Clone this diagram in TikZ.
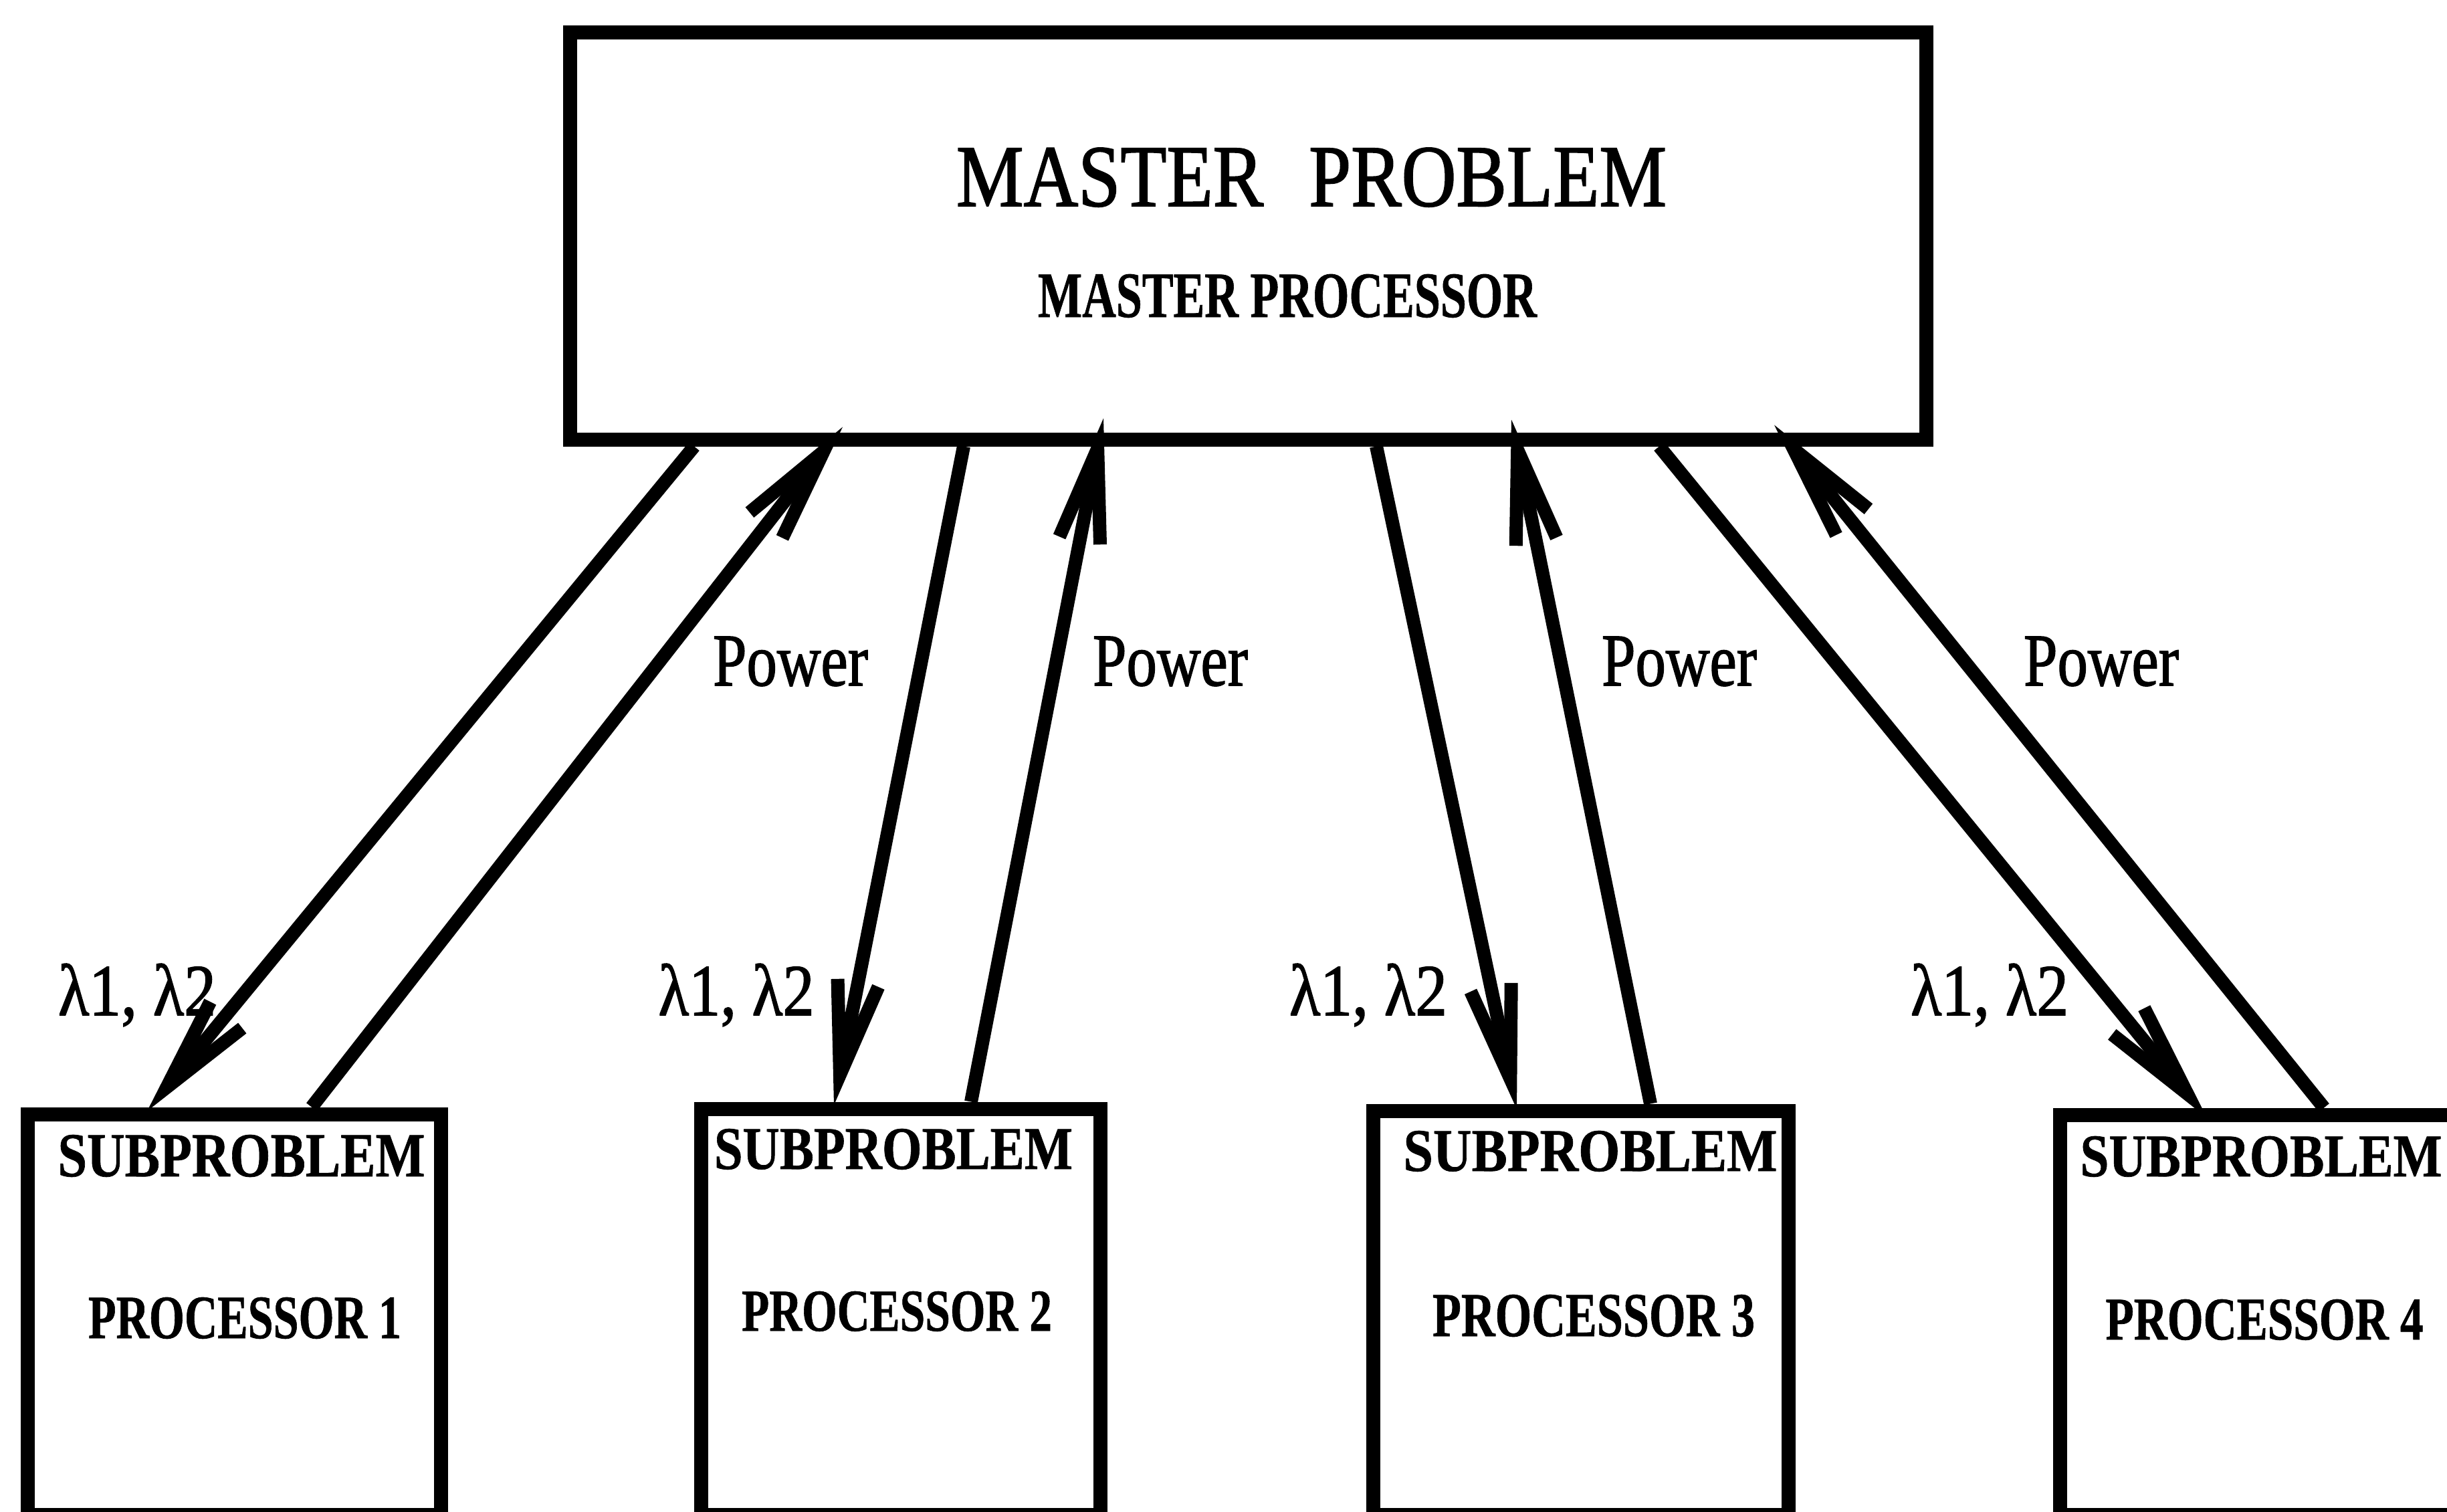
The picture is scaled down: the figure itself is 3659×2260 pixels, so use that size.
\documentclass[tikz,border=0pt]{standalone}
\usepackage{fontspec}
\setmainfont{Liberation Serif}
\newfontfamily\heavyserif[FakeBold=1.5]{Liberation Serif}
\newfontfamily\heavybold[FakeBold=0.8]{Liberation Serif Bold}
\usepackage{graphicx}
\usetikzlibrary{arrows.meta}
\newcommand\fitt[3]{\resizebox{#1}{#2}{#3}}
\begin{document}
\begin{tikzpicture}[x=0.1mm,y=-0.1mm,
  box/.style={draw=black, line width=2.1mm, rectangle, inner sep=0pt},
  lbl/.style={anchor=base, inner sep=0pt, text=black},
  conn/.style={line width=2mm, -{Straight Barb[length=14mm,width=6.2mm]}}
]
\fill[white] (0,0) rectangle (3659,2260);
\useasboundingbox (0,0) rectangle (3659,2260);

% boxes
\node[box, minimum width=202.8mm, minimum height=60.9mm] (master) at (1866,352.5) {};
\node[box, minimum width=61.8mm, minimum height=59.9mm] (s1) at (350,1965.5) {};
\node[box, minimum width=59.7mm, minimum height=60.7mm] (s2) at (1346.5,1961.5) {};
\node[box, minimum width=62.1mm, minimum height=60.4mm] (s3) at (2363.5,1963) {};
\node[box, minimum width=64mm, minimum height=59.8mm] (s4) at (3400,1966) {};

% master texts
\node[lbl] (mt1) at (1961,308) {\fitt{106.2mm}{8.7mm}{\heavyserif MASTER\hspace{0.6em}PROBLEM}};
\node[lbl] (mt2) at (1925,474) {\fitt{74.6mm}{6.4mm}{\heavybold MASTER PROCESSOR}};

% subproblem texts
\node[lbl] (t1a) at (361,1759) {\fitt{54.9mm}{6.2mm}{\heavybold SUBPROBLEM}};
\node[lbl] (t1b) at (366,2001) {\fitt{46.8mm}{6.1mm}{\heavybold PROCESSOR 1}};
\node[lbl] (t2a) at (1336,1748) {\fitt{53.6mm}{6.0mm}{\heavybold SUBPROBLEM}};
\node[lbl] (t2b) at (1341,1990) {\fitt{46.4mm}{5.9mm}{\heavybold PROCESSOR 2}};
\node[lbl] (t3a) at (2378,1751) {\fitt{55.9mm}{6.0mm}{\heavybold SUBPROBLEM}};
\node[lbl] (t3b) at (2383,1998) {\fitt{48.2mm}{6.2mm}{\heavybold PROCESSOR 3}};
\node[lbl] (t4a) at (3381,1759) {\fitt{54.1mm}{6.0mm}{\heavybold SUBPROBLEM}};
\node[lbl] (t4b) at (3386,2003) {\fitt{47.5mm}{6.0mm}{\heavybold PROCESSOR 4}};

% labels
\node[lbl] (p1) at (1182,1025) {\fitt{23.2mm}{7.3mm}{\heavyserif Power}};
\node[lbl] (p2) at (1750,1025) {\fitt{23.2mm}{7.3mm}{\heavyserif Power}};
\node[lbl] (p3) at (2511,1025) {\fitt{23.2mm}{7.3mm}{\heavyserif Power}};
\node[lbl] (p4) at (3142,1025) {\fitt{23.2mm}{7.3mm}{\heavyserif Power}};
\node[lbl] (l1) at (205,1518) {\fitt{23.6mm}{7.7mm}{\heavyserif λ1, λ2}};
\node[lbl] (l2) at (1101,1518) {\fitt{23.3mm}{7.7mm}{\heavyserif λ1, λ2}};
\node[lbl] (l3) at (2046,1518) {\fitt{23.6mm}{7.7mm}{\heavyserif λ1, λ2}};
\node[lbl] (l4) at (2975,1518) {\fitt{23.6mm}{7.7mm}{\heavyserif λ1, λ2}};

% connectors: master -> subproblems (lambda)
\draw[conn] (1038,0 |- master.south) -- ([yshift=-0.6mm]220,0 |- s1.north);
\draw[conn] (1441,0 |- master.south) -- ([yshift=-0.5mm]1247,0 |- s2.north);
\draw[conn] (2058,0 |- master.south) -- ([yshift=-0.8mm]2268,0 |- s3.north);
\draw[conn] (2481,0 |- master.south) -- ([yshift=-1.5mm]3300,0 |- s4.north);
% connectors: subproblems -> master (power)
\draw[conn] (466,0 |- s1.north) -- ([yshift=2.9mm]1260,0 |- master.south);
\draw[conn] (1452,0 |- s2.north) -- ([yshift=4.2mm]1650,0 |- master.south);
\draw[conn] (2468,0 |- s3.north) -- ([yshift=4.0mm]2260,0 |- master.south);
\draw[conn] (3475,0 |- s4.north) -- ([yshift=3.2mm]2653,0 |- master.south);
\end{tikzpicture}
\end{document}
